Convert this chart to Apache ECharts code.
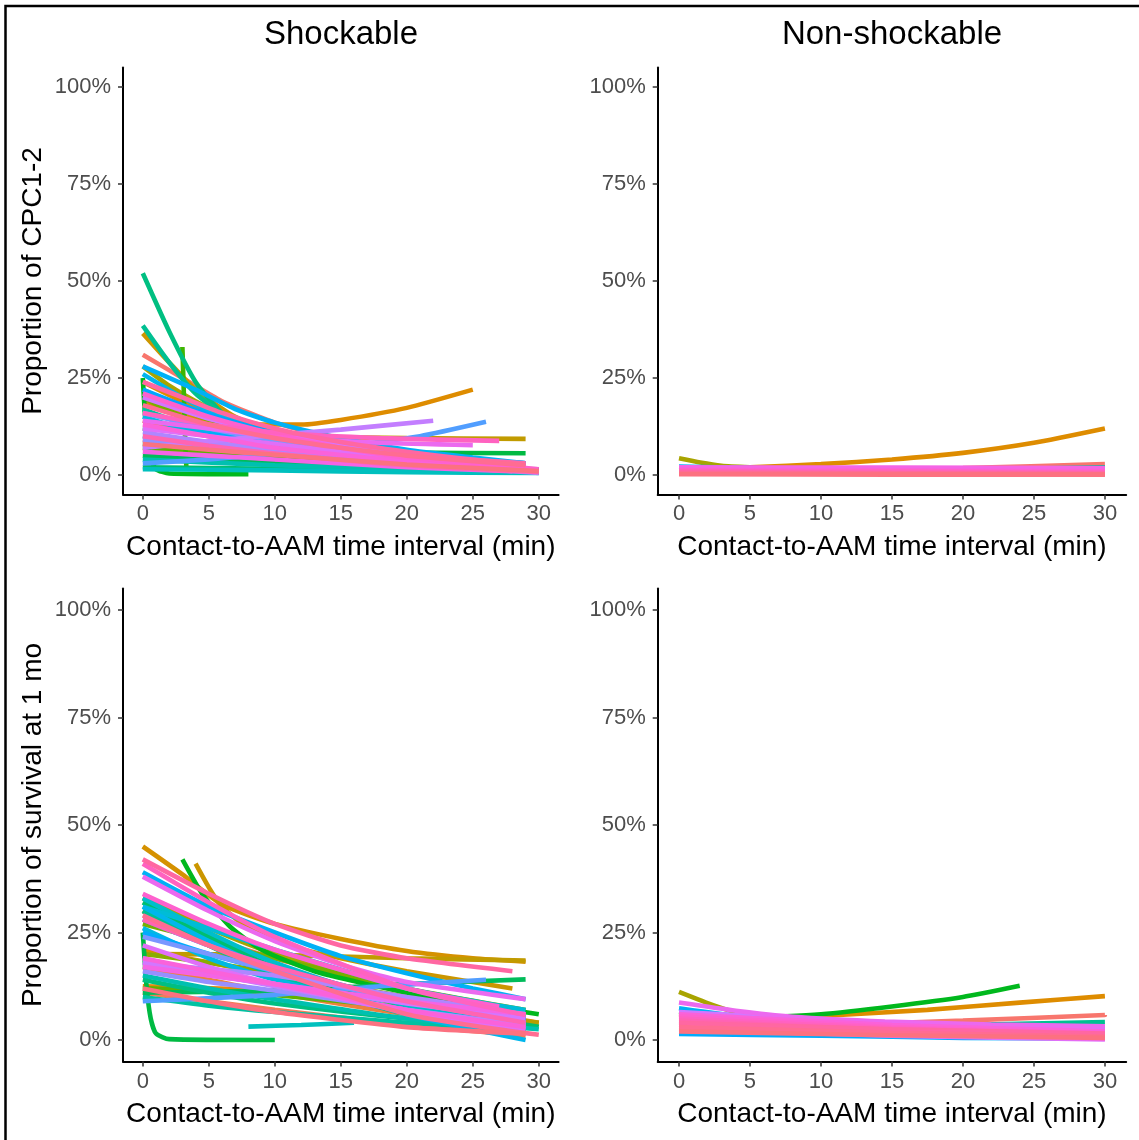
<!DOCTYPE html>
<html>
<head>
<meta charset="utf-8">
<title>CPC and survival by contact-to-AAM interval</title>
<script src="https://cdn.jsdelivr.net/npm/echarts@6/dist/echarts.min.js"></script>
<style>
  html, body { margin: 0; padding: 0; background: #fff; }
  #chart { width: 1139px; height: 1140px; }
</style>
</head>
<body>
<div id="chart"></div>
<script>
// tick labels
const xTicks = [0, 5, 10, 15, 20, 25, 30];
const yTicks = [0, 25, 50, 75, 100];
const panelTitles = ['Shockable', 'Non-shockable'];
const yNames = ['Proportion of CPC1-2', 'Proportion of survival at 1 mo'];
const xName = 'Contact-to-AAM time interval (min)';

// each line: [group index (0-46), [[minutes, percent], ...]]
const cpcShock = [
  [0, [[0, 31], [3, 25], [6, 19], [10, 13.5], [15, 9], [22, 5], [29, 2.5]]],
  [1, [[0, 9], [5, 7], [10, 5], [20, 2], [29, 0.8]]],
  [2, [[0, 14], [5, 10], [10, 7], [20, 3], [29, 1]]],
  [4, [[0, 24], [3, 19], [6, 15], [9, 13], [12, 13], [15, 14.2], [20, 17.3], [25, 22]]],
  [5, [[0, 19], [5, 13.5], [10, 9.5], [20, 4.5], [29, 2]]],
  [6, [[0, 36.5], [2, 29], [4, 22], [7, 15], [10, 11], [15, 7], [20, 4.5]]],
  [7, [[0, 12], [5, 10.8], [10, 10], [20, 9.5], [29, 9.3]]],
  [9, [[0, 28], [2, 23], [4, 19], [7, 14], [10, 10], [15, 6.5], [20, 4]]],
  [11, [[0, 22], [3, 17], [6, 13], [10, 9], [20, 4], [29, 2]]],
  [12, [[0, 20], [3, 15], [6, 11.5], [10, 8], [20, 4], [29, 2]]],
  [13, [[0, 7], [5, 5.5], [10, 4.2], [20, 2], [29, 1]]],
  [14, [[3, 33], [3.1, 22], [3.2, 10], [3.3, 2]]],
  [15, [[0, 25], [0.2, 14], [0.5, 5], [1, 1.5], [2, 0.4], [8, 0.2]]],
  [16, [[0, 8], [5, 7.2], [10, 6.5], [20, 5.8], [29, 5.6]]],
  [17, [[0, 5], [10, 3], [20, 2], [30, 1.5]]],
  [18, [[0, 2], [10, 1.6], [20, 1.2], [30, 1.2]]],
  [19, [[0, 52], [2, 37], [4, 24], [6, 16], [9, 9.5], [14, 5]]],
  [20, [[0, 38.5], [2, 29], [4, 21], [6, 16], [10, 10], [15, 6], [22, 3]]],
  [21, [[0, 17], [5, 11], [10, 7.5], [20, 3], [29, 1]]],
  [22, [[0, 4], [10, 2.5], [20, 1.5], [30, 0.8]]],
  [23, [[0, 1.5], [10, 1.2], [20, 0.7], [30, 0.5]]],
  [24, [[0, 10], [5, 8], [10, 6], [20, 3], [29, 1]]],
  [26, [[0, 15], [3, 12], [6, 10.5], [10, 8.5], [20, 5], [29, 3]]],
  [27, [[0, 26], [3, 20], [6, 15], [10, 10.5], [15, 7], [20, 4.5], [28, 2]]],
  [28, [[0, 28], [4, 22], [7, 17], [10, 13.5], [15, 9.5], [20, 6.5], [25, 4.5], [29, 3]]],
  [29, [[0, 12], [5, 10.5], [10, 9], [20, 5], [29, 3]]],
  [30, [[0, 22], [3, 18], [6, 14.5], [10, 11], [20, 5], [29, 2.5]]],
  [31, [[0, 3], [5, 4], [10, 5.5], [15, 7.3], [21, 10], [26, 13.7]]],
  [32, [[0, 16], [5, 12], [10, 9], [20, 5], [29, 3]]],
  [33, [[0, 9], [5, 7.5], [10, 6], [20, 3.5], [29, 2]]],
  [34, [[0, 11], [5, 8.5], [10, 6.5], [20, 3], [30, 0.5]]],
  [35, [[0, 7], [5, 8.7], [10, 10.3], [15, 11.7], [22, 14]]],
  [36, [[0, 20], [5, 14.5], [10, 10.5], [20, 5], [29, 2.5]]],
  [37, [[0, 12], [5, 10], [10, 8], [20, 4], [29, 2]]],
  [38, [[0, 14], [5, 12], [10, 10], [18, 8.3], [25, 7.7]]],
  [39, [[0, 6], [5, 5], [10, 4], [20, 2], [28, 1]]],
  [40, [[0, 13], [5, 10], [10, 7], [20, 3.5], [29, 1.5]]],
  [41, [[0, 21], [5, 15], [10, 10.5], [15, 7], [20, 4.5], [30, 1.5]]],
  [42, [[0, 16], [5, 13], [10, 11], [18, 9.5], [27, 8.8]]],
  [43, [[0, 10], [5, 7.5], [10, 5.5], [20, 2.5], [30, 0.7]]],
  [44, [[0, 24], [3, 20], [6, 16], [10, 12], [15, 8.5], [20, 6], [25, 4], [29, 3]]],
  [45, [[0, 18], [5, 13], [10, 9.5], [15, 7], [20, 5], [29, 2.5]]],
  [46, [[0, 8], [5, 6.5], [10, 5.2], [20, 2.7], [30, 1]]]
];

const cpcNonShock = [
  [0, [[0, 1], [10, 1.2], [20, 1.8], [30, 2.8]]],
  [4, [[5, 2], [10, 2.8], [15, 4], [20, 5.7], [25, 8.3], [30, 12]]],
  [9, [[0, 4.3], [1.5, 3.2], [3, 2.4], [5, 2]]],
  [20, [[0, 1], [10, 1], [20, 1.4], [30, 2]]],
  [23, [[0, 2], [10, 1.3], [20, 1], [30, 1]]],
  [28, [[0, 2.2], [5, 1.8], [10, 1.3], [20, 1.2], [30, 1.2]]],
  [36, [[0, 1.8], [15, 1.6], [30, 1.5]]],
  [38, [[0, 1.6], [15, 1.4], [30, 1.2]]],
  [39, [[0, 2], [15, 1.9], [30, 1.8]]],
  [40, [[0, 1.4], [15, 1.2], [30, 1]]],
  [41, [[0, 1.2], [15, 1], [30, 0.8]]],
  [42, [[0, 1], [15, 0.8], [30, 0.6]]],
  [43, [[0, 0.8], [15, 0.6], [30, 0.5]]],
  [44, [[0, 0.6], [15, 0.4], [30, 0.3]]],
  [45, [[0, 0.4], [15, 0.3], [30, 0.2]]],
  [46, [[0, 0.2], [15, 0.1], [30, 0.1]]]
];

const survShock = [
  [0, [[0, 30], [5, 24], [10, 19], [20, 11], [29, 6]]],
  [1, [[0, 11], [5, 9], [10, 7], [20, 3.5], [29, 1]]],
  [2, [[0, 17], [5, 14], [10, 11], [20, 6], [29, 3]]],
  [3, [[0, 12.5], [10, 11.5], [20, 9], [30, 4]]],
  [4, [[0, 21], [5, 18], [10, 15], [20, 9], [29, 5]]],
  [5, [[0, 45], [3, 38.5], [6, 31.5], [10, 27], [15, 23.5], [20, 20.7], [25, 19], [29, 18.2]]],
  [6, [[4, 41], [5, 35.5], [6, 31], [8, 26], [11, 22], [15, 19], [20, 16], [28, 12]]],
  [7, [[0, 20], [10, 19.8], [20, 19], [29, 18.5]]],
  [8, [[0, 30], [5, 22], [10, 16], [20, 8], [30, 4]]],
  [9, [[0, 33], [5, 26], [10, 20], [20, 11], [29, 6]]],
  [11, [[0, 20], [5, 18], [10, 15.5], [20, 10], [29, 5.5]]],
  [12, [[0, 27], [5, 23], [10, 19], [20, 12], [29, 7]]],
  [13, [[0, 12], [5, 11.5], [10, 10.5], [20, 7.5], [29, 5]]],
  [15, [[3, 42], [4.5, 34], [6.6, 26.4], [9, 21], [13, 16], [20, 11], [30, 6]]],
  [16, [[0, 25], [0.3, 12], [0.6, 5], [1, 1.5], [2, 0.2], [10, 0]]],
  [17, [[0, 11], [10, 11.5], [20, 13], [29, 14.1]]],
  [18, [[0, 32], [5, 24], [10, 17], [20, 8], [30, 3.1]]],
  [19, [[0, 14], [5, 11], [10, 8.5], [20, 5], [29, 3]]],
  [20, [[0, 30], [5, 22], [10, 15], [20, 6], [29, 2]]],
  [21, [[0, 10], [5, 8], [10, 6.5], [20, 4], [29, 2.5]]],
  [22, [[0, 15], [5, 12], [10, 9.5], [20, 5], [30, 2.5]]],
  [23, [[8, 3.1], [12, 3.5], [16, 4]]],
  [24, [[0, 33], [5, 25], [10, 18], [20, 8], [29, 4]]],
  [25, [[0, 31], [5, 26], [10, 21], [20, 12], [29, 7]]],
  [26, [[0, 26], [5, 19], [10, 14], [20, 7], [29, 3.5]]],
  [27, [[0, 31], [5, 23], [10, 16], [20, 6], [29, 0]]],
  [28, [[0, 39], [5, 31], [10, 25], [15, 19.5], [20, 15.5], [25, 12], [29, 9.5]]],
  [29, [[0, 25], [5, 20], [10, 16], [20, 9], [29, 5]]],
  [30, [[0, 28], [5, 22], [10, 17], [20, 9], [29, 4.5]]],
  [31, [[0, 9], [10, 10.5], [18, 12.5], [26, 14]]],
  [32, [[0, 24], [5, 20], [10, 16], [20, 9], [29, 4]]],
  [33, [[0, 16], [5, 13.5], [10, 11.5], [20, 7], [29, 3.5]]],
  [34, [[0, 18], [5, 16.5], [10, 15], [20, 10], [29, 6]]],
  [35, [[0, 19], [5, 15.5], [10, 12.5], [20, 7], [29, 3.5]]],
  [36, [[0, 18], [5, 15], [10, 13], [20, 8.5], [29, 5]]],
  [37, [[0, 22], [5, 17], [10, 13], [20, 6.5], [29, 2.5]]],
  [38, [[0, 38], [5, 30], [10, 23], [15, 17.5], [20, 13.5], [29, 9.5]]],
  [39, [[0, 17], [5, 15], [10, 13], [20, 9], [29, 6]]],
  [40, [[0, 19], [5, 16], [10, 13], [20, 7], [29, 3]]],
  [41, [[0, 34], [5, 27], [10, 21], [20, 12], [27, 7.8]]],
  [42, [[0, 41], [5, 32], [10, 24], [20, 12], [29, 5.8]]],
  [43, [[0, 28], [5, 22], [10, 17], [20, 9], [29, 4]]],
  [44, [[0, 42], [5, 34], [10, 27], [15, 22], [20, 19], [28, 16]]],
  [45, [[0, 29], [5, 22], [10, 16], [20, 6], [30, 1.2]]],
  [46, [[0, 12], [5, 9], [10, 6.5], [20, 3], [29, 1.5]]]
];

const survNonShock = [
  [0, [[0, 3], [10, 3.5], [20, 4.5], [30, 5.8]]],
  [4, [[0, 6], [5, 5], [10, 5.6], [17.5, 7], [24, 8.7], [30, 10.2]]],
  [9, [[0, 11.2], [2.5, 8], [5, 5.5], [7, 4.7]]],
  [15, [[0, 6.5], [5, 5.2], [10, 6], [15, 7.8], [20, 10], [24, 12.6]]],
  [20, [[0, 2.5], [10, 2.8], [20, 3.5], [30, 4.2]]],
  [28, [[0, 7.4], [5, 5.2], [10, 4], [20, 3], [30, 2.5]]],
  [29, [[0, 1.4], [10, 1], [20, 0.5], [30, 0.3]]],
  [35, [[0, 4.2], [15, 3.5], [30, 3]]],
  [36, [[0, 6.5], [15, 4], [30, 2.5]]],
  [37, [[0, 2.5], [15, 1], [30, 0.1]]],
  [38, [[0, 8.7], [4, 6.8], [8, 5.4], [14.5, 4.3], [22, 3.6], [30, 3.2]]],
  [39, [[0, 3.5], [15, 1.6], [30, 0.3]]],
  [40, [[0, 6], [15, 3.5], [30, 2]]],
  [41, [[0, 5.5], [15, 3], [30, 1.5]]],
  [42, [[0, 5], [15, 2.7], [30, 1.2]]],
  [43, [[0, 4.5], [15, 2.4], [30, 1]]],
  [44, [[0, 4], [15, 2.5], [30, 1.5]]],
  [45, [[0, 3], [15, 1.7], [30, 0.8]]],
  [46, [[0, 2], [15, 1.1], [30, 0.5]]]
];

// ggplot default hue palette (hcl, c=100, l=65) for 47 groups
function hueColor(i, n) {
  const h = (15 + 360 * i / n) * Math.PI / 180;
  const L = 65, C = 100;
  const u = C * Math.cos(h), v = C * Math.sin(h);
  const Xn = 95.047, Yn = 100, Zn = 108.883;
  const d = Xn + 15 * Yn + 3 * Zn;
  const un = 4 * Xn / d, vn = 9 * Yn / d;
  const Y = Yn * Math.pow((L + 16) / 116, 3);
  const up = u / (13 * L) + un, vp = v / (13 * L) + vn;
  const X = 9 * Y * up / (4 * vp);
  const Z = Y * (12 - 3 * up - 20 * vp) / (4 * vp);
  const x = X / 100, y = Y / 100, z = Z / 100;
  const lin = [
    3.2404542 * x - 1.5371385 * y - 0.4985314 * z,
    -0.9692660 * x + 1.8760108 * y + 0.0415560 * z,
    0.0556434 * x - 0.2040259 * y + 1.0572252 * z
  ];
  return '#' + lin.map(c => {
    c = c <= 0.0031308 ? 12.92 * c : 1.055 * Math.pow(c, 1 / 2.4) - 0.055;
    c = Math.round(Math.min(1, Math.max(0, c)) * 255);
    return (c < 16 ? '0' : '') + c.toString(16);
  }).join('');
}

const font = "'Liberation Sans', Arial, sans-serif";
const panels = [cpcShock, cpcNonShock, survShock, survNonShock];

const grids = [
  { left: 123, top: 67.6, width: 435.6, height: 426.8 },
  { left: 657.7, top: 67.6, width: 468.5, height: 426.8 },
  { left: 123, top: 588.5, width: 435.6, height: 473 },
  { left: 657.7, top: 588.5, width: 468.5, height: 473 }
];

const xAxes = grids.map((g, k) => ({
  type: 'value',
  gridIndex: k,
  min: -1.5,
  max: 31.5,
  name: xName,
  nameLocation: 'middle',
  nameGap: 39,
  nameTextStyle: { fontSize: 28, color: '#000', fontFamily: font },
  axisLine: { onZero: false, lineStyle: { color: '#000', width: 2 } },
  axisTick: { customValues: xTicks, length: 5, lineStyle: { color: '#333', width: 1.5 } },
  axisLabel: { customValues: xTicks, margin: 9, fontSize: 22, color: '#4d4d4d', fontFamily: font },
  splitLine: { show: false }
}));

const yAxes = grids.map((g, k) => ({
  type: 'value',
  gridIndex: k,
  min: -5,
  max: 105,
  name: k % 2 === 0 ? yNames[k / 2] : '',
  nameLocation: 'middle',
  nameGap: 76,
  nameTextStyle: { fontSize: 28, color: '#000', fontFamily: font },
  axisLine: { show: true, onZero: false, lineStyle: { color: '#000', width: 2 } },
  axisTick: { show: true, customValues: yTicks, length: 5, lineStyle: { color: '#333', width: 1.5 } },
  axisLabel: {
    customValues: yTicks, margin: 12, fontSize: 22, color: '#4d4d4d', fontFamily: font,
    formatter: v => v + '%'
  },
  splitLine: { show: false }
}));

const series = [];
panels.forEach((lines, k) => {
  lines.slice().sort((a, b) => a[0] - b[0]).forEach(line => {
    series.push({
      type: 'line',
      xAxisIndex: k,
      yAxisIndex: k,
      data: line[1],
      showSymbol: false,
      smooth: 0.2,
      silent: true,
      lineStyle: { width: 4.6, color: hueColor(line[0], 47), cap: 'butt' }
    });
  });
});

const chart = echarts.init(document.getElementById('chart'));
chart.setOption({
  animation: false,
  backgroundColor: '#fff',
  grid: grids,
  xAxis: xAxes,
  yAxis: yAxes,
  series: series,
  graphic: [
    // frame round the figure (top and left edges only)
    { type: 'polyline', shape: { points: [[5.5, 1140], [5.5, 6], [1139, 6]] }, style: { stroke: '#000', lineWidth: 2.5, fill: null } },
    { type: 'text', x: 341, y: 35, style: { text: panelTitles[0], font: '33px ' + font, fill: '#000', textAlign: 'center', textVerticalAlign: 'middle' } },
    { type: 'text', x: 892, y: 35, style: { text: panelTitles[1], font: '33px ' + font, fill: '#000', textAlign: 'center', textVerticalAlign: 'middle' } }
  ]
});
</script>
</body>
</html>
